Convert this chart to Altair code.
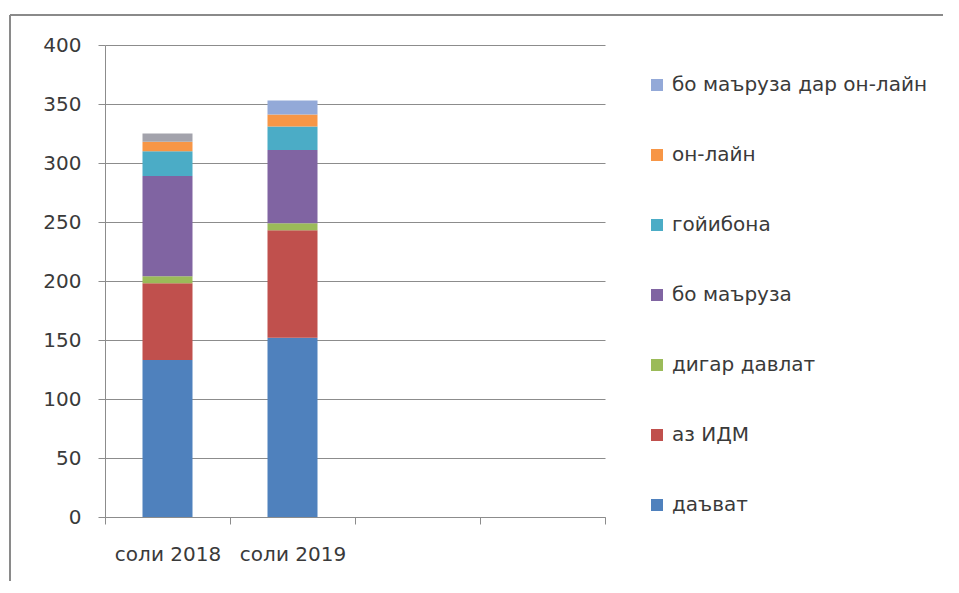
import altair as alt
import pandas as pd

years = ["соли 2018", "соли 2019"]
slots = ["соли 2018", "соли 2019", " ", "  "]
series = ["даъват", "аз ИДМ", "дигар давлат", "бо маъруза", "гойибона", "он-лайн", "бо маъруза дар он-лайн"]
colors = ["#4F81BD", "#C0504D", "#9BBB59", "#8064A2", "#4BACC6", "#F79646", "#93A9D8"]
vals_2018 = [133, 65, 6, 85, 21, 8, 7]
vals_2019 = [152, 91, 6, 62, 20, 10, 12]
top_2018_key = "бо маъруза дар он-лайн (2018)"
top_2018_color = "#A3A3AC"

rows = []
for yr, vals in zip(years, [vals_2018, vals_2019]):
    for i, (s, v) in enumerate(zip(series, vals)):
        key = s
        if yr == "соли 2018" and s == "бо маъруза дар он-лайн":
            key = top_2018_key
        rows.append({"year": yr, "series": key, "value": v, "rank": i})
df = pd.DataFrame(rows)

FONT = "DejaVu Sans"
TXT = "#3A3A3A"
GRID = "#8C8C8C"
legend_order = list(reversed(series))
legend_colors = list(reversed(colors))

bars = alt.Chart(df).mark_bar(size=50).encode(
    x=alt.X("year:N", scale=alt.Scale(domain=slots, paddingInner=0, paddingOuter=0),
            axis=alt.Axis(title=None, labelAngle=0, tickBand="extent", tickSize=7,
                          tickColor=GRID, domainColor=GRID, labelPadding=20,
                          labelFontSize=20, labelFont=FONT, labelColor=TXT, grid=False)),
    y=alt.Y("value:Q", stack="zero", scale=alt.Scale(domain=[0, 400]),
            axis=alt.Axis(title=None, values=[0, 50, 100, 150, 200, 250, 300, 350, 400],
                          tickSize=7, tickColor=GRID, domainColor=GRID,
                          gridColor=GRID, labelPadding=17,
                          labelFontSize=20, labelFont=FONT, labelColor=TXT)),
    color=alt.Color("series:N",
                    scale=alt.Scale(domain=legend_order + [top_2018_key],
                                    range=legend_colors + [top_2018_color]),
                    legend=alt.Legend(title=None, values=legend_order, orient="none",
                                      legendX=542, legendY=30,
                                      symbolType="square", symbolSize=144,
                                      labelFontSize=20, labelFont=FONT, labelColor=TXT,
                                      rowPadding=50, labelOffset=5, labelLimit=400)),
    order=alt.Order("rank:Q"),
)

frame_df = pd.DataFrame({"k": [0]})
top_line = alt.Chart(frame_df).mark_rule(color="#8A8A8A", strokeWidth=2).encode(
    x=alt.value(-95), x2=alt.value(838), y=alt.value(-30))
left_line = alt.Chart(frame_df).mark_rule(color="#8A8A8A", strokeWidth=2).encode(
    x=alt.value(-95), y=alt.value(-30), y2=alt.value(536))

chart = alt.layer(bars, top_line, left_line).properties(
    width=500, height=472,
    padding={"left": 1, "top": 6, "right": 0, "bottom": 0},
).configure_view(stroke=None)

chart.save("out.html", embed_options={"renderer": "svg", "actions": False})
